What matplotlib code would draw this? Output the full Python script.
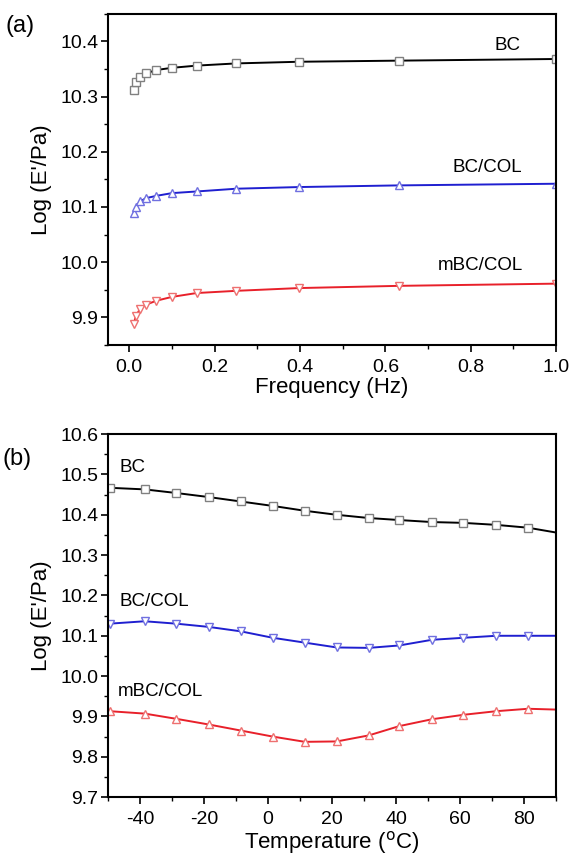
import matplotlib
matplotlib.use("Agg")
import matplotlib.pyplot as plt
from matplotlib.ticker import MultipleLocator

plt.rcParams['font.family'] = ['Liberation Sans', 'DejaVu Sans']

# (a) frequency sweep
freq = [0.01, 0.0158, 0.0251, 0.0398, 0.0631, 0.1, 0.158, 0.251, 0.398, 0.631, 1.0]
bc_f = [10.312, 10.326, 10.335, 10.342, 10.348, 10.352, 10.356, 10.360, 10.363, 10.365, 10.368]
bccol_f = [10.089, 10.100, 10.110, 10.116, 10.120, 10.125, 10.128, 10.133, 10.136, 10.139, 10.142]
mbccol_f = [9.887, 9.903, 9.915, 9.923, 9.930, 9.937, 9.944, 9.948, 9.953, 9.957, 9.961]

# (b) temperature sweep (last point = line end, no marker)
temp = [-49.5, -38.5, -28.6, -18.5, -8.5, 1.5, 11.5, 21.5, 31.5, 41.0, 51.2, 61.0, 71.3, 81.2, 90]
bc_t = [10.467, 10.463, 10.454, 10.444, 10.433, 10.422, 10.410, 10.400, 10.392, 10.387,
        10.382, 10.380, 10.375, 10.368, 10.356]
bccol_t = [10.130, 10.136, 10.130, 10.122, 10.111, 10.095, 10.083, 10.071, 10.070, 10.076,
           10.090, 10.095, 10.100, 10.100, 10.100]
mbccol_t = [9.913, 9.907, 9.894, 9.880, 9.865, 9.850, 9.837, 9.838, 9.853, 9.876,
            9.893, 9.904, 9.913, 9.919, 9.917]

fig = plt.figure(figsize=(5.71, 8.58), dpi=100)
ax1 = fig.add_axes([0.189, 0.598, 0.785, 0.386])
ax2 = fig.add_axes([0.189, 0.071, 0.785, 0.423])

styles = [('black', '#808080', 's'), ('#1f1fd0', '#7070e0', '^'), ('#e8202a', '#ee7070', 'v')]

for ys, (c, ec, m) in zip([bc_f, bccol_f, mbccol_f], styles):
    ax1.plot(freq, ys, color=c, lw=1.4, marker=m, ms=6, mfc='white', mec=ec, mew=1.0)

tstyles = [('black', '#808080', 's'), ('#1f1fd0', '#7070e0', 'v'), ('#e8202a', '#ee7070', '^')]
for ys, (c, ec, m) in zip([bc_t, bccol_t, mbccol_t], tstyles):
    ax2.plot(temp, ys, color=c, lw=1.4, marker=m, ms=6, mfc='white', mec=ec, mew=1.0,
             markevery=list(range(len(temp) - 1)))

ax1.set_xlim(-0.05, 1.0)
ax1.set_ylim(9.85, 10.45)
ax1.xaxis.set_major_locator(MultipleLocator(0.2))
ax1.xaxis.set_minor_locator(MultipleLocator(0.1))
ax1.yaxis.set_major_locator(MultipleLocator(0.1))
ax1.yaxis.set_minor_locator(MultipleLocator(0.05))
ax1.set_xlabel('Frequency (Hz)', fontsize=16, labelpad=1)
ax1.set_ylabel("Log (E'/Pa)", fontsize=16, labelpad=6)
ax1.text(0.885, 10.392, 'BC', fontsize=13.5, ha='center', va='center')
ax1.text(0.839, 10.171, 'BC/COL', fontsize=13.5, ha='center', va='center')
ax1.text(0.822, 9.994, 'mBC/COL', fontsize=13.5, ha='center', va='center')

ax2.set_xlim(-50, 90)
ax2.set_ylim(9.7, 10.6)
ax2.xaxis.set_major_locator(MultipleLocator(20))
ax2.xaxis.set_minor_locator(MultipleLocator(10))
ax2.yaxis.set_major_locator(MultipleLocator(0.1))
ax2.yaxis.set_minor_locator(MultipleLocator(0.05))
ax2.set_xlabel('Temperature ($^{\\mathrm{o}}$C)', fontsize=16, labelpad=1)
ax2.set_ylabel("Log (E'/Pa)", fontsize=16, labelpad=6)
ax2.text(-46.3, 10.518, 'BC', fontsize=13.5, ha='left', va='center')
ax2.text(-46.5, 10.184, 'BC/COL', fontsize=13.5, ha='left', va='center')
ax2.text(-47.0, 9.961, 'mBC/COL', fontsize=13.5, ha='left', va='center')

for ax in (ax1, ax2):
    ax.tick_params(which='both', direction='out', top=False, right=False, labelsize=14)
    ax.tick_params(which='major', length=5, width=1.2, pad=2)
    ax.tick_params(which='minor', length=3, width=1.0)
    ax.tick_params(axis='x', which='major', pad=5)
    for s in ax.spines.values():
        s.set_linewidth(1.5)
    ax.yaxis.set_major_formatter(matplotlib.ticker.FormatStrFormatter('%.1f'))

ax2.xaxis.set_major_formatter(matplotlib.ticker.FormatStrFormatter('%d'))

fig.text(0.01, 0.963, '(a)', fontsize=17)
fig.text(0.005, 0.458, '(b)', fontsize=17)

fig.savefig('out.png', dpi=100)
